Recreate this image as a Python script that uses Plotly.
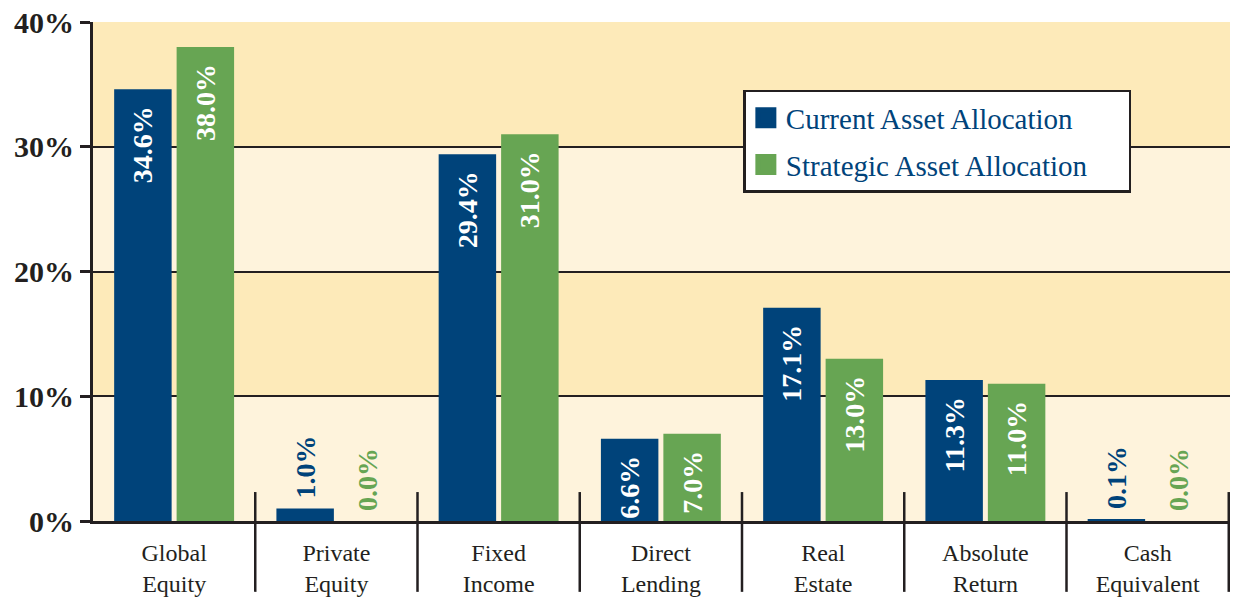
import plotly.graph_objects as go

categories = ["Global<br>Equity", "Private<br>Equity", "Fixed<br>Income", "Direct<br>Lending",
              "Real<br>Estate", "Absolute<br>Return", "Cash<br>Equivalent"]
current = [34.6, 1.0, 29.4, 6.6, 17.1, 11.3, 0.1]
strategic = [38.0, 0.0, 31.0, 7.0, 13.0, 11.0, 0.0]
series_names = ["Current Asset Allocation", "Strategic Asset Allocation"]
y_ticks = [0, 10, 20, 30, 40]
y_tick_labels = ["0%", "10%", "20%", "30%", "40%"]

BLUE = "#00437a"
GREEN = "#67a553"
DARK = "#231f20"
BAND_LIGHT = "#fef3dc"
BAND_DARK = "#fdeab9"
SERIF = "Liberation Serif, Times New Roman, serif"
NB = "\u00a0"

fig = go.Figure()
for idx, (name, vals, col) in enumerate([(series_names[0], current, BLUE),
                                          (series_names[1], strategic, GREEN)]):
    inside = [v >= 3 for v in vals]
    positions = ["inside" if f else "outside" for f in inside]
    templates = ["%{y:.1f}%" + NB * 2 if f else NB + "%{y:.1f}%" for f in inside]
    fig.add_trace(go.Bar(
        x=categories, y=vals, name=name, marker=dict(color=col, line=dict(width=0)),
        texttemplate=templates, textposition=positions, textangle=-90,
        insidetextanchor="end", constraintext="none",
        insidetextfont=dict(family=SERIF, size=28, color="white", weight="bold"),
        outsidetextfont=dict(family=SERIF, size=28, color=col, weight="bold"),
        cliponaxis=False, showlegend=False,
    ))
    fig.add_trace(go.Scatter(
        x=[None], y=[None], mode="markers", name=name + NB * 5, legendgroup="g%d" % idx,
        marker=dict(symbol="square", size=16, color=col, line=dict(color=col, width=5)),
        showlegend=True,
    ))

shapes = []
# alternating background bands
for i in range(len(y_ticks) - 1):
    if i % 2 == 1:
        shapes.append(dict(type="rect", xref="paper", yref="y", x0=0, x1=1,
                           y0=y_ticks[i], y1=y_ticks[i + 1], fillcolor=BAND_DARK,
                           line=dict(width=0), layer="below"))
# category separators
for i in range(len(categories)):
    shapes.append(dict(type="line", xref="x", yref="paper", x0=i + 0.5, x1=i + 0.5,
                       y0=-0.142, y1=0.058, line=dict(color=DARK, width=2.5)))

fig.update_layout(
    width=1230, height=592,
    margin=dict(l=85, r=8, t=14, b=79, autoexpand=False),
    paper_bgcolor="white", plot_bgcolor=BAND_LIGHT,
    barmode="group", bargap=0.23, bargroupgap=0.08,
    shapes=shapes,
    showlegend=True,
    legend=dict(x=0.572, y=0.864, xanchor="left", yanchor="top",
                bgcolor="white", bordercolor=DARK, borderwidth=2.5,
                font=dict(family=SERIF, size=29, color=BLUE),
                itemsizing="trace", tracegroupgap=6),
    xaxis=dict(showline=True, linecolor=DARK, linewidth=3, ticks="",
               tickfont=dict(family=SERIF, size=24, color=DARK),
               showgrid=False, fixedrange=True, ticklabelstandoff=8),
    yaxis=dict(range=[0, 40], tickvals=y_ticks, ticktext=y_tick_labels,
               showline=True, linecolor=DARK, linewidth=3,
               ticks="outside", ticklen=10, tickwidth=2.5, tickcolor=DARK,
               tickfont=dict(family=SERIF, size=30, color=DARK, weight="bold"),
               showgrid=True, gridcolor=DARK, gridwidth=2, zeroline=False,
               ticklabelstandoff=0, ticklabeloverflow="allow"),
)

fig.write_html("out.html")
